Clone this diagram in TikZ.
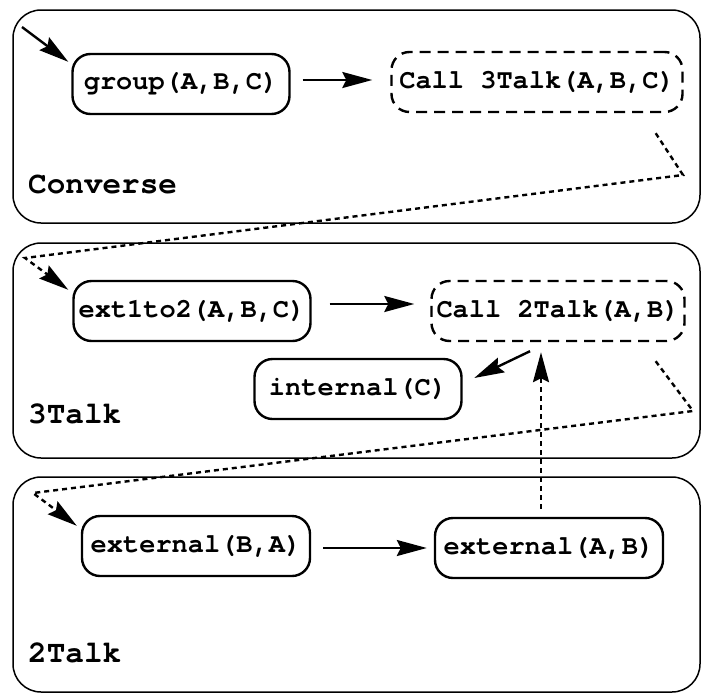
\documentclass[tikz,border=0pt]{standalone}
\usepackage{fontspec}
\setmonofont{texgyrecursor}[Extension=.otf, UprightFont=*-regular, BoldFont=*-bold]
\usetikzlibrary{arrows.meta}
\begin{document}
\begin{tikzpicture}[x=1pt,y=-1pt,
 panel/.style={draw, line width=1.5pt, rounded corners=28pt, inner sep=0pt},
 state/.style={draw, line width=2.4pt, rounded corners=18pt, minimum height=60pt, inner sep=0pt, font=\ttfamily\bfseries\fontsize{27}{29}\selectfont},
 callstate/.style={state, dash pattern=on 11pt off 7pt},
 lbl/.style={anchor=base west, inner sep=0pt, font=\ttfamily\bfseries\fontsize{31}{34}\selectfont},
 arr/.style={line width=2.4pt, -{Stealth[length=30pt,width=16pt,inset=4pt]}},
 dotarr/.style={arr, dash pattern=on 5pt off 4pt},
]
\useasboundingbox (0,0) rectangle (710,694);
% panels
\node[panel, minimum width=687pt, minimum height=213pt] (p1) at (356.5,116.5) {};
\node[panel, minimum width=687pt, minimum height=215pt] (p2) at (356.5,350.5) {};
\node[panel, minimum width=687pt, minimum height=215pt] (p3) at (356.5,584.5) {};
% labels
\node[lbl] (l1) at (28,193) {Converse};
\node[lbl] (l2) at (28,423) {3Talk};
\node[lbl] (l3) at (28,662) {2Talk};
% states
\node[state, minimum width=217pt] (g) at (181,84) {group(A,B,C)};
\node[callstate, minimum width=291pt] (c3) at (537,82) {Call 3Talk(A,B,C)};
\node[state, minimum width=237pt] (e12) at (192,311) {ext1to2(A,B,C)};
\node[callstate, minimum width=253pt] (c2) at (558,311) {Call 2Talk(A,B)};
\node[state, minimum width=207pt] (ic) at (358,389) {internal(C)};
\node[state, minimum width=228pt] (eba) at (196,546) {external(B,A)};
\node[state, minimum width=228pt] (eab) at (549,548) {external(A,B)};
% coordinates
\coordinate (start) at (22,27);
\coordinate (k1) at (683,175);
\coordinate (k2) at (25,258);
\coordinate (k3) at (693,411);
\coordinate (k4) at (33,493);
% connectors
\draw[arr] (start) -- ([shift={(-3,9)}]g.north west);
\draw[arr] ([shift={(12,-4)}]g.east) -- ([shift={(-18,-2)}]c3.west);
\draw[dotarr] ([shift={(-28,20)}]c3.south east) -- (k1) -- (k2) -- ([shift={(-4,10)}]e12.north west);
\draw[arr] ([shift={(18,-7)}]e12.east) -- ([shift={(-16,-7)}]c2.west);
\draw[arr] ([shift={(-28,9)}]c2.south) -- ([shift={(11.5,-11)}]ic.east);
\draw[dotarr] ([shift={(-8,-8)}]eab.north) -- ([shift={(-17,10)}]c2.south);
\draw[dotarr] ([shift={(-30,19)}]c2.south east) -- (k3) -- (k4) -- ([shift={(-4,11)}]eba.north west);
\draw[arr] ([shift={(12,2)}]eba.east) -- ([shift={(-7,0)}]eab.west);
\end{tikzpicture}
\end{document}
